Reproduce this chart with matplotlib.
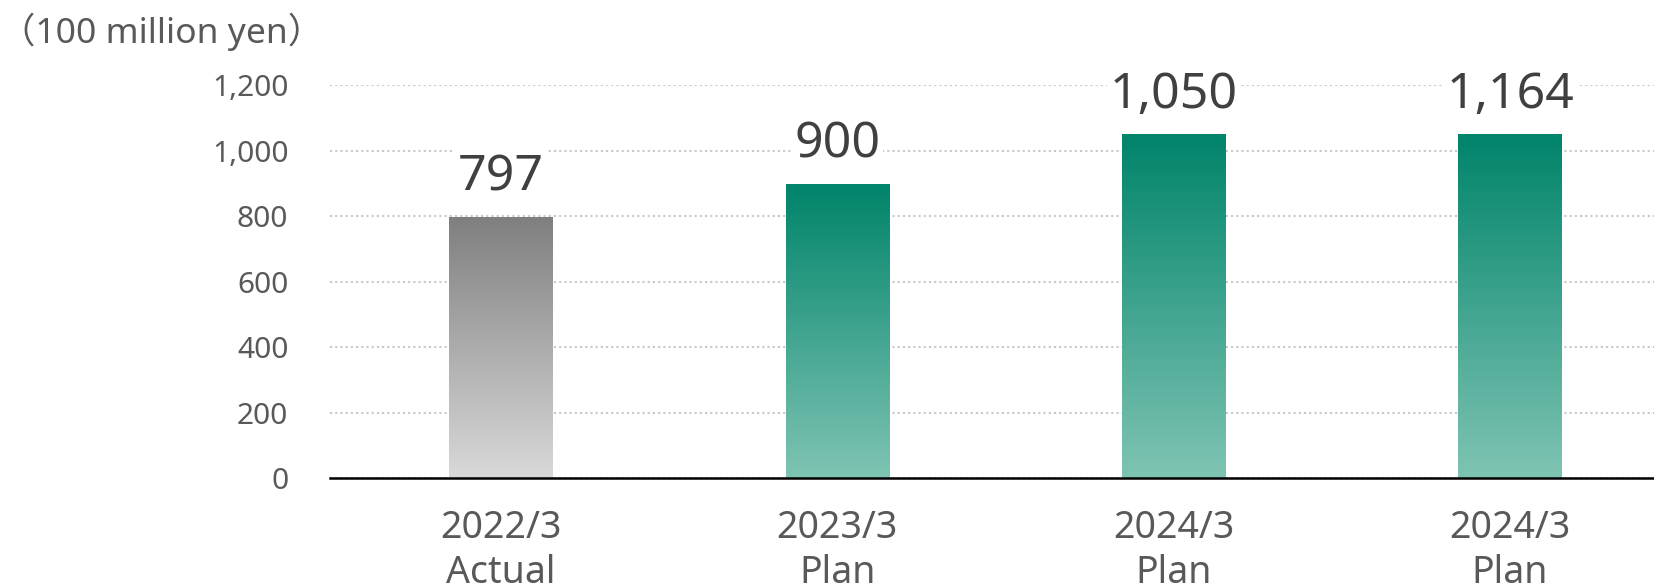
import numpy as np
import matplotlib
matplotlib.use('Agg')
import matplotlib.pyplot as plt
from matplotlib.colors import LinearSegmentedColormap

plt.rcParams['font.family'] = ['Noto Sans', 'Noto Sans CJK JP', 'DejaVu Sans']

categories = ['2022/3\nActual', '2023/3\nPlan', '2024/3\nPlan', '2024/3\nPlan']
bar_heights = [797, 900, 1050, 1050]
bar_labels = ['797', '900', '1,050', '1,164']
bar_kind = ['actual', 'plan', 'plan', 'plan']
yticks = [0, 200, 400, 600, 800, 1000, 1200]
ytick_labels = ['0', '200', '400', '600', '800', '1,000', '1,200']
unit_label = '（100 million yen）'

gray_cmap = LinearSegmentedColormap.from_list('gray_grad', ['#d9d9d9', '#7f7f7f'])
green_cmap = LinearSegmentedColormap.from_list('green_grad', ['#7fc4b3', '#00846a'])

fig = plt.figure(figsize=(16.54, 5.87), dpi=100)
ax = fig.add_axes([330 / 1654, 1 - 478 / 587, 1 - 330 / 1654, (478 - 85.4) / 587])

x = np.arange(len(categories))
bars = ax.bar(x, bar_heights, width=0.308, color='none', edgecolor='none', zorder=3)

# gradient fill clipped to each bar
grad = np.linspace(0, 1, 256).reshape(-1, 1)
for bar, kind in zip(bars, bar_kind):
    bx, by = bar.get_x(), bar.get_y()
    bw, bh = bar.get_width(), bar.get_height()
    cmap = gray_cmap if kind == 'actual' else green_cmap
    img = ax.imshow(grad, extent=[bx, bx + bw, by, by + bh], origin='lower',
                    aspect='auto', cmap=cmap, zorder=3)
    img.set_clip_path(bar)

for xi, h, lab in zip(x, bar_heights, bar_labels):
    ax.annotate(lab, (xi, h), xytext=(0, 19), textcoords='offset points',
                ha='center', va='baseline', fontsize=36, color='#404040',
                bbox=dict(facecolor='white', edgecolor='none', pad=2),
                annotation_clip=False, zorder=4)

ax.set_xlim(-0.5085, 3.428)
ax.set_ylim(0, 1200)
ax.set_xticks(x)
ax.set_xticklabels(categories, fontsize=27, color='#595959', linespacing=1.25)
ax.set_yticks(yticks)
ax.set_yticklabels(ytick_labels, fontsize=21.5, color='#595959')
ax.tick_params(axis='x', length=0, pad=22)
ax.tick_params(axis='y', length=0, pad=30)

ax.grid(axis='y', linestyle=(0, (1, 1.5)), color='#c8c8c8', linewidth=1.5, zorder=0)
ax.set_axisbelow(True)
for s in ['top', 'right', 'left']:
    ax.spines[s].set_visible(False)
ax.spines['bottom'].set_color('black')
ax.spines['bottom'].set_linewidth(1.8)
ax.spines['bottom'].set_zorder(5)

fig.text(0.0, 1 - 32 / 587, unit_label, fontsize=25.5, color='#595959',
         ha='left', va='center')

fig.savefig('out.png', dpi=100)
